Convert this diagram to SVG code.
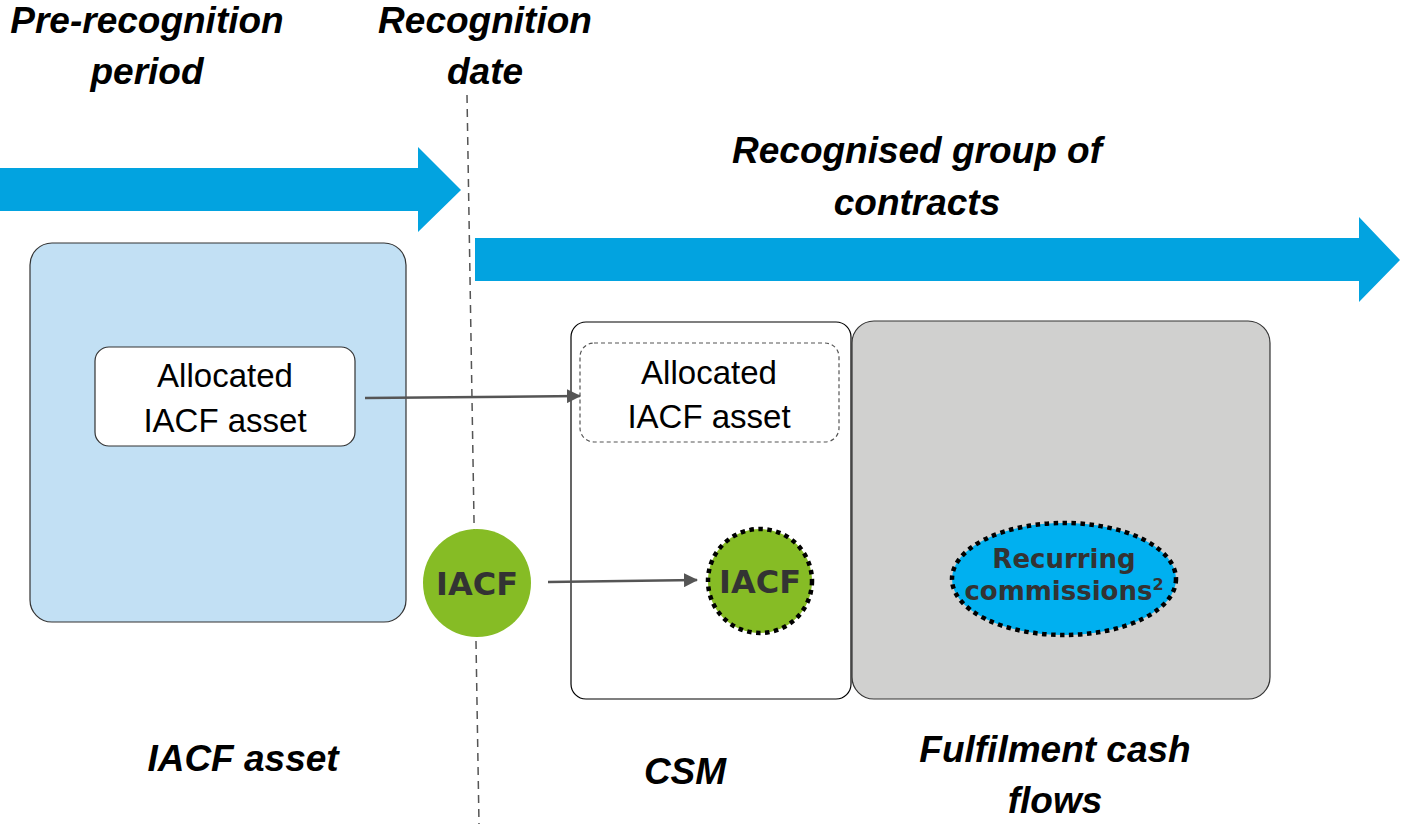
<svg xmlns="http://www.w3.org/2000/svg" width="1401" height="824" viewBox="0 0 1401 824">
<style>
.hd{font-family:"Liberation Sans",Arial,sans-serif;font-weight:bold;font-style:italic;font-size:37px;fill:#000;text-anchor:middle}
.bx{font-family:"Liberation Sans",Arial,sans-serif;font-size:33px;fill:#000;text-anchor:middle}
.cl{font-family:"DejaVu Sans",Verdana,sans-serif;font-weight:bold;fill:#333;text-anchor:middle}
.conn{stroke:#555;stroke-width:2.5;fill:none}
.dot{stroke:#000;stroke-width:4.5;stroke-dasharray:4.5 4.5}
</style>
<defs>
<marker id="ah" markerWidth="14" markerHeight="14" refX="13" refY="7" orient="auto" markerUnits="userSpaceOnUse" viewBox="0 0 14 14">
<path d="M0,0 L14,7 L0,14 z" fill="#555"/>
</marker>
</defs>
<rect width="1401" height="824" fill="#fff"/>

<g id="timeline">
<polygon points="0,168 418,168 418,147 461,190 418,232 418,211 0,211" fill="#02a3e0"/>
<polygon points="475,238 1359,238 1359,217 1400,260 1359,302 1359,281 475,281" fill="#02a3e0"/>
<line x1="467" y1="95" x2="479" y2="824" stroke="#555" stroke-width="1.5" stroke-dasharray="8 6"/>
</g>

<g id="labels">
<text class="hd" x="147" y="33">Pre-recognition</text>
<text class="hd" x="147" y="84">period</text>
<text class="hd" x="485" y="33">Recognition</text>
<text class="hd" x="485" y="84">date</text>
<text class="hd" x="917" y="163">Recognised group of</text>
<text class="hd" x="917" y="215">contracts</text>
<text class="hd" x="243" y="771">IACF asset</text>
<text class="hd" x="685" y="784">CSM</text>
<text class="hd" x="1055" y="762">Fulfilment cash</text>
<text class="hd" x="1055" y="813">flows</text>
</g>

<g id="iacf-asset-panel">
<rect x="30" y="243" width="376" height="379" rx="22" fill="#c2e0f4" stroke="#333" stroke-width="1.2"/>
</g>

<g id="allocated-left">
<rect x="95" y="347" width="260" height="99" rx="14" fill="#fff" stroke="#333" stroke-width="1.2"/>
<text class="bx" x="225" y="387">Allocated</text>
<text class="bx" x="225" y="432">IACF asset</text>
</g>

<g id="csm-panel">
<rect x="571" y="322" width="280" height="377" rx="15" fill="#fff" stroke="#000" stroke-width="1.2"/>
</g>

<g id="allocated-right">
<rect x="580" y="343" width="259" height="99" rx="14" fill="#fff" stroke="#555" stroke-width="1.2" stroke-dasharray="4 3"/>
<text class="bx" x="709" y="384">Allocated</text>
<text class="bx" x="709" y="428">IACF asset</text>
</g>

<g id="fcf-panel">
<rect x="852" y="321" width="418" height="378" rx="22" fill="#d0d0cf" stroke="#333" stroke-width="1.2"/>
</g>

<g id="iacf-left">
<circle cx="477" cy="583" r="54" fill="#86bc25"/>
<text class="cl" x="477" y="595" font-size="32">IACF</text>
</g>

<g id="iacf-right">
<circle cx="760" cy="581" r="52" fill="#86bc25" class="dot"/>
<text class="cl" x="760" y="593" font-size="32">IACF</text>
</g>

<g id="recurring">
<ellipse cx="1064" cy="579" rx="112" ry="56" fill="#00b0f0" class="dot"/>
<text class="cl" x="1064" y="568" font-size="26">Recurring</text>
<text class="cl" x="1064" y="600" font-size="26">commissions<tspan font-size="16" dy="-10">2</tspan></text>
</g>

<g id="connectors">
<line class="conn" x1="365" y1="398" x2="580" y2="396" marker-end="url(#ah)"/>
<line class="conn" x1="548" y1="582" x2="697" y2="580" marker-end="url(#ah)"/>
</g>
</svg>
